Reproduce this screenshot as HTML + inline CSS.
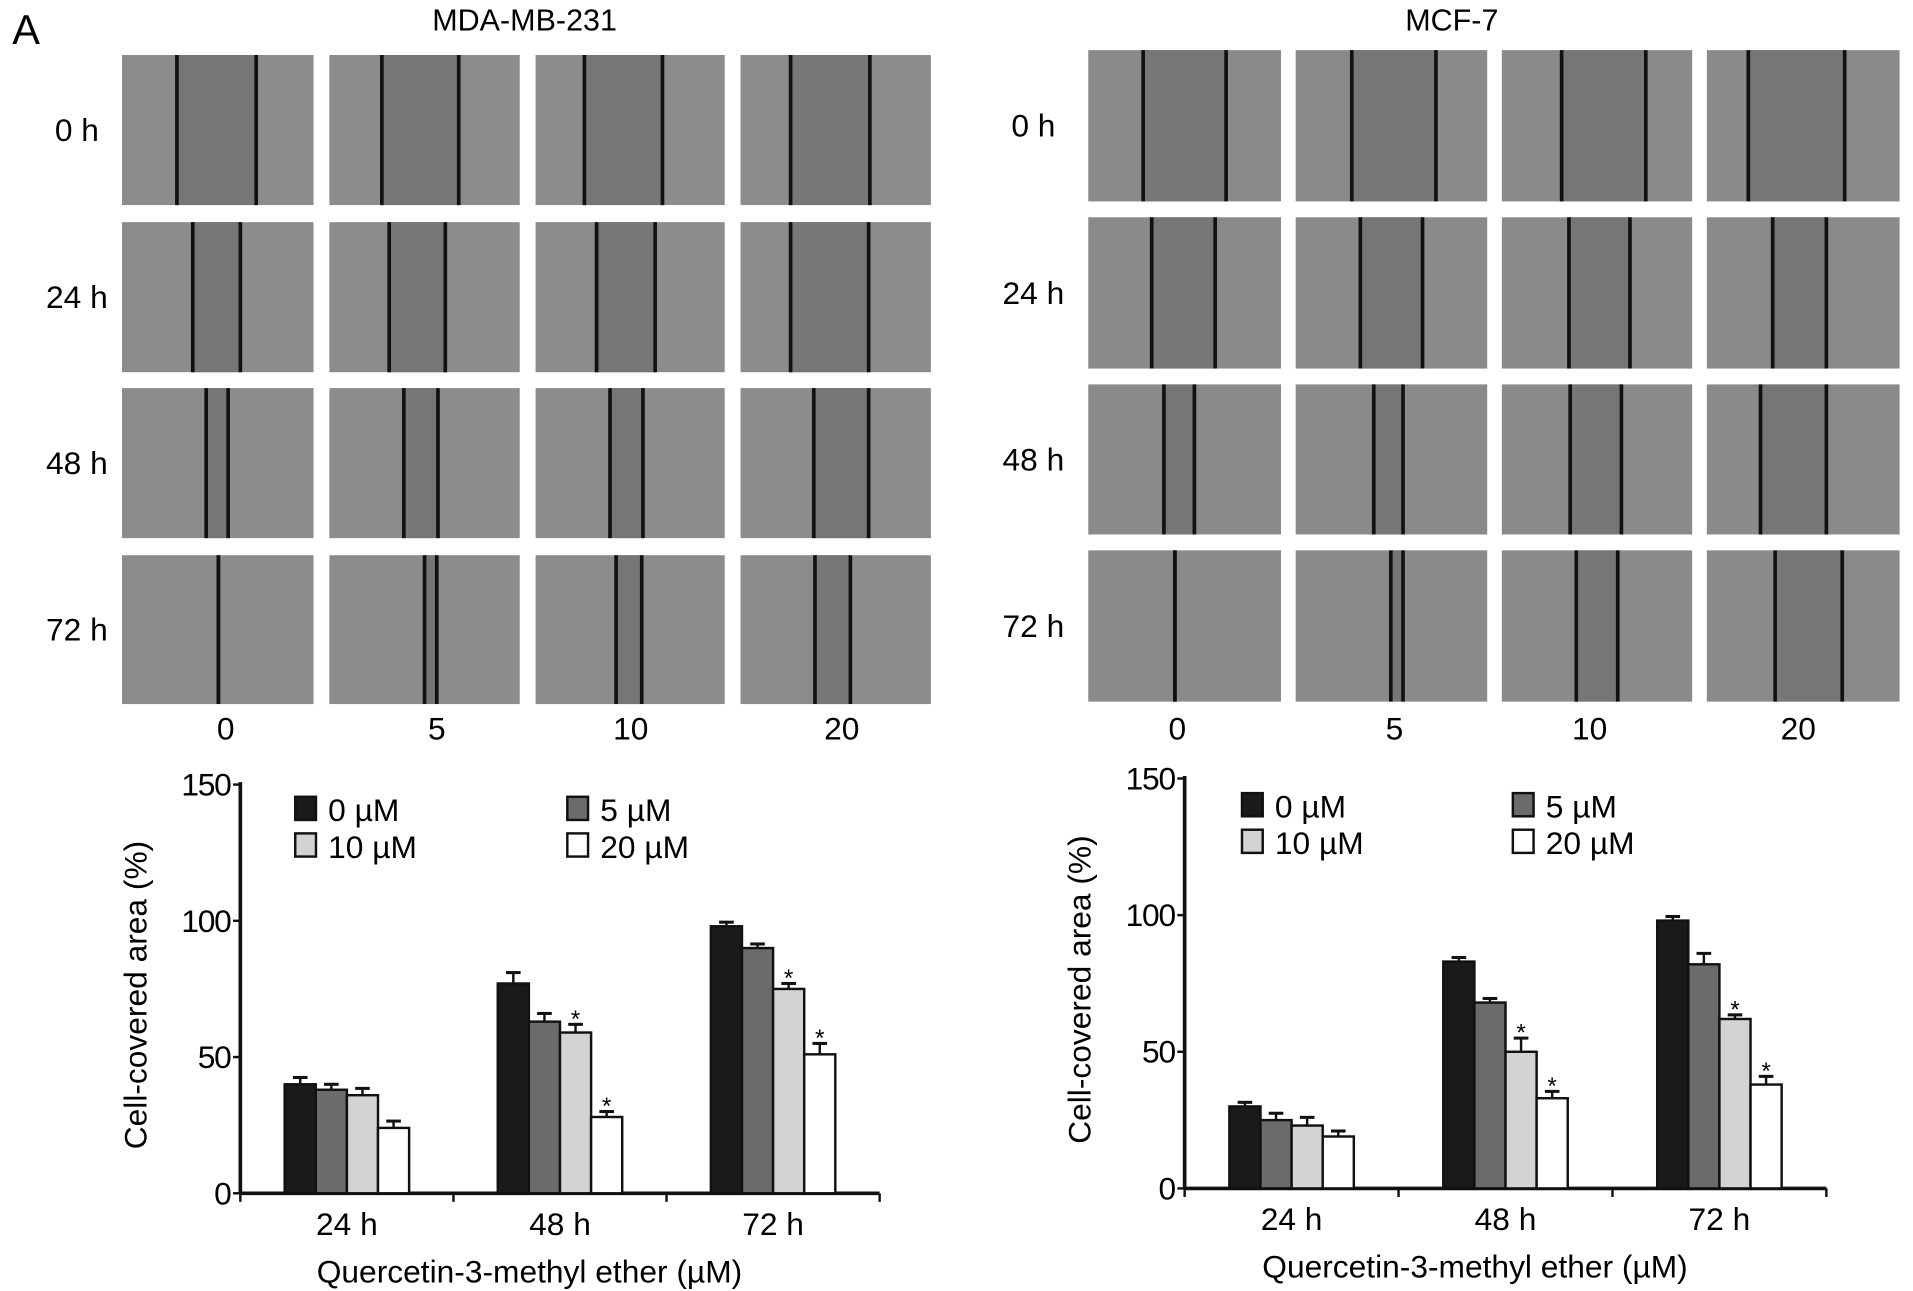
<!DOCTYPE html>
<html><head><meta charset="utf-8"><style>
html,body{margin:0;padding:0;background:#fff;}
svg{display:block;font-family:"Liberation Sans",Arial,sans-serif;}
</style></head><body>
<svg id="fig" width="1913" height="1291" viewBox="0 0 1568 1058" xmlns="http://www.w3.org/2000/svg">
<text x="10" y="36" font-size="34">A</text>
<text x="430" y="25" font-size="25" text-anchor="middle">MDA-MB-231</text>
<text x="1190" y="25" font-size="25" text-anchor="middle">MCF-7</text>
<g id="micro"></g>
<g id="chartL"></g>
<g id="chartR"></g>
</svg>
<script>
// ---- chart data ----
const categories = ["24 h","48 h","72 h"];
const seriesNames = ["0 µM","5 µM","10 µM","20 µM"];
const yTicks = [0,50,100,150];
const mdaValues = [[40,38,36,24],[77,63,59,28],[98,90,75,51]];
const mdaErrors = [[2.5,2,2.5,2.5],[4,3,3,2],[1.5,1.5,2,4]];
const mdaStars = [[0,0,0,0],[0,0,1,1],[0,0,1,1]];
const mcfValues = [[30,25,23,19],[83,68,50,33],[98,82,62,38]];
const mcfErrors = [[1.5,2.5,3,2],[1.5,1.5,5,2.5],[1.5,4,1.5,3]];
const mcfStars = [[0,0,0,0],[0,0,1,1],[0,0,1,1]];
const doseLabels = ["0","5","10","20"];
const timeLabels = ["0 h","24 h","48 h","72 h"];

const NS="http://www.w3.org/2000/svg";
const fills=["#1a1a1a","#6b6b6b","#d3d3d3","#ffffff"];
const FS=26;
function mk(tag,attrs,parent,text){const e=document.createElementNS(NS,tag);for(const k in attrs)e.setAttribute(k,attrs[k]);if(text!==undefined)e.textContent=text;parent.appendChild(e);return e;}

// ---- micrographs ----
const micro=document.getElementById('micro');
const gridL={cols:[[100,257],[270,426],[439,594],[607,763]],rows:[[45,168],[182,305],[318,441],[455,577]],
 lines:[[[145,210],[313,376],[479,543],[648,713]],[[158,197],[319,365],[489,537],[648,712]],[[169,187],[331,359],[500,527],[667,712]],[[179,179],[348,358],[505,526],[668,697]]],
 labX:63, dose:[185,358,517,690]};
const gridR={cols:[[892,1050],[1062,1219],[1231,1387],[1399,1557]],rows:[[41,165],[178,302],[315,438],[451,575]],
 lines:[[[937,1005],[1108,1177],[1280,1349],[1433,1512]],[[944,996],[1115,1166],[1286,1336],[1453,1497]],[[954,979],[1126,1150],[1287,1329],[1443,1497]],[[963,963],[1140,1150],[1292,1326],[1455,1510]]],
 labX:847, dose:[965,1143,1303,1474]};
function drawGrid(g,light,key){
 g.rows.forEach((r,ri)=>{
  const t=mk('text',{x:g.labX,y:(r[0]+r[1])/2+9,'font-size':FS,'text-anchor':'middle'},micro,timeLabels[ri]);
  
  
  g.cols.forEach((c,ci)=>{
   const cell=mk('g',{},micro);
   
   
   mk('rect',{x:c[0],y:r[0],width:c[1]-c[0],height:r[1]-r[0],fill:light},cell);
   const ln=g.lines[ri][ci];
   mk('rect',{x:ln[0],y:r[0],width:ln[1]-ln[0],height:r[1]-r[0],fill:'#767676'},cell);
   ln.forEach(x=>mk('line',{x1:x,x2:x,y1:r[0],y2:r[1],stroke:'#111','stroke-width':3},cell));
  });
 });
 g.dose.forEach((x,i)=>{const t=mk('text',{x:x,y:606,'font-size':FS,'text-anchor':'middle'},micro,doseLabels[i]);
  
  });
}
drawGrid(gridL,'#8c8c8c','mda');
drawGrid(gridR,'#8a8a8a','mcf');

// ---- bar charts ----
function drawChart(id,ax,values,errors,stars,key){
 const g=document.getElementById(id);
 const y=v=>ax.y0-(v/150)*(ax.y0-ax.y150);
 const band=(ax.x1-ax.x0)/categories.length;
 const bw=25.5;
 mk('line',{x1:ax.x0,x2:ax.x0,y1:y(150)-2,y2:ax.y0,stroke:'#111','stroke-width':3},g);
 const xa=mk('line',{x1:ax.x0,x2:ax.x1,y1:ax.y0,y2:ax.y0,stroke:'#111','stroke-width':3},g);
 
 
 yTicks.forEach(v=>{
  mk('line',{x1:ax.x0-6,x2:ax.x0,y1:y(v),y2:y(v),stroke:'#111','stroke-width':2},g);
  const t=mk('text',{x:ax.x0-8,y:y(v)+9,'font-size':FS,'text-anchor':'end','letter-spacing':-1},g,v);
  
  
 });
 for(let i=0;i<=categories.length;i++){mk('line',{x1:ax.x0+i*band,x2:ax.x0+i*band,y1:ax.y0,y2:ax.y0+7,stroke:'#111','stroke-width':2},g);}
 categories.forEach((c,ci)=>{
  const cx=ax.x0+band*(ci+0.5);
  const t=mk('text',{x:cx,y:ax.y0+34,'font-size':FS,'text-anchor':'middle'},g,c);
  
  
  values[ci].forEach((v,si)=>{
   const x=cx-2*bw+si*bw;
   const top=y(v), et=y(v+errors[ci][si]);
   mk('line',{x1:x+bw/2,x2:x+bw/2,y1:top,y2:et,stroke:'#111','stroke-width':2},g);
   mk('line',{x1:x+bw/2-6,x2:x+bw/2+6,y1:et,y2:et,stroke:'#111','stroke-width':2.5},g);
   const b=mk('rect',{x:x,y:top,width:bw,height:ax.y0-top,fill:fills[si],stroke:'#111','stroke-width':2},g);
   
   
   if(stars[ci][si]){const s=mk('text',{x:x+bw/2,y:et+2,'font-size':20,'text-anchor':'middle'},g,'*');
    
    }
  });
 });
 const yt=mk('text',{x:0,y:0,'font-size':FS,'text-anchor':'middle',transform:`translate(${ax.x0-77},${(ax.y0+y(150))/2+5}) rotate(-90)`},g,'Cell-covered area (%)');
 
 
 const xt=mk('text',{x:(ax.x0+ax.x1)/2-25,y:ax.y0+73,'font-size':FS,'text-anchor':'middle'},g,'Quercetin-3-methyl ether (µM)');
 
 
 seriesNames.forEach((n,i)=>{
  const lx=ax.lx+(i%2)*ax.lgap, ly=ax.ly+Math.floor(i/2)*30;
  const e=mk('g',{},g);
  
  
  mk('rect',{x:lx,y:ly-10,width:17,height:19,fill:fills[i],stroke:'#111','stroke-width':2},e);
  mk('text',{x:lx+27,y:ly+10,'font-size':FS},e,n);
 });
}
drawChart('chartL',{x0:197,x1:721,y0:978,y150:643,lx:242,ly:663,lgap:223},mdaValues,mdaErrors,mdaStars,'mda');
drawChart('chartR',{x0:971,x1:1497,y0:974,y150:638,lx:1018,ly:660,lgap:222},mcfValues,mcfErrors,mcfStars,'mcf');
</script>
</body></html>
